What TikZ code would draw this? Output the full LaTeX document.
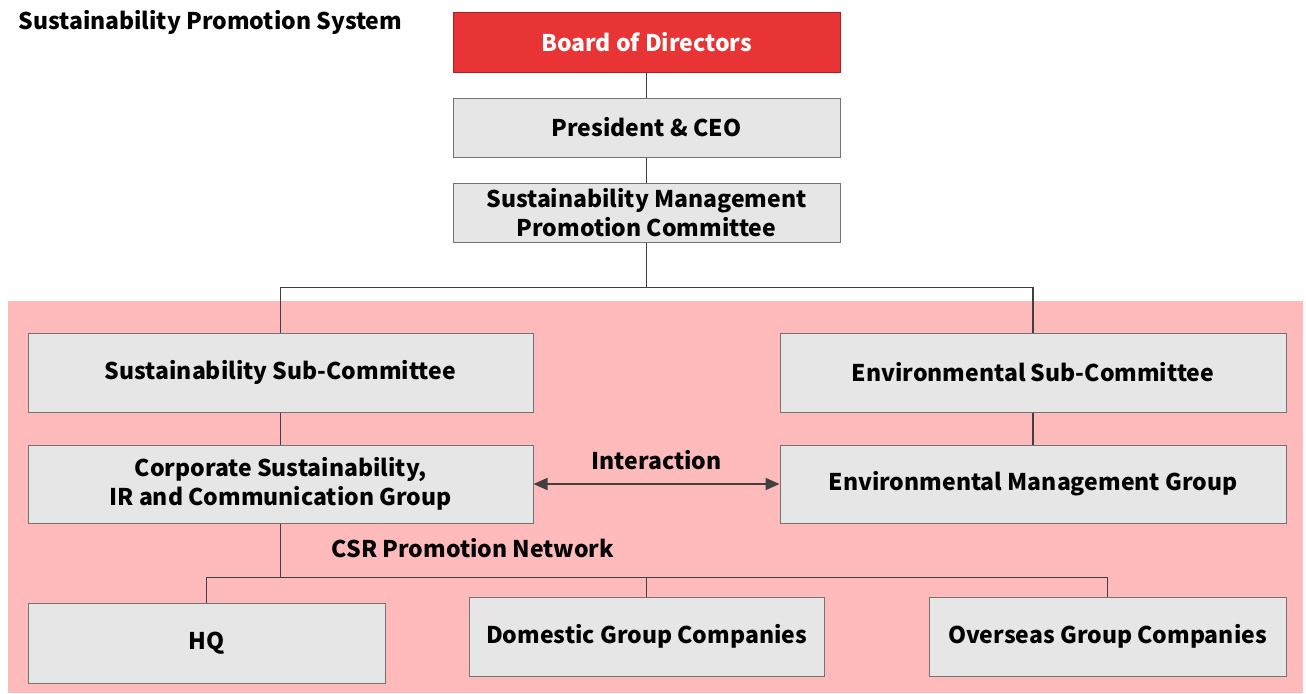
\documentclass[tikz,border=0pt]{standalone}
\usepackage{fontspec}
\setmainfont{Noto Sans CJK JP}
\usetikzlibrary{positioning, arrows.meta}

\definecolor{boardred}{HTML}{E83434}
\definecolor{boxgray}{HTML}{E6E6E6}
\definecolor{netpink}{HTML}{FFBBBB}
\definecolor{linegray}{HTML}{404040}

\begin{document}
\begin{tikzpicture}[x=0.5pt, y=-0.5pt,
  font=\bfseries\fontsize{11.5}{14.5}\selectfont,
  unit/.style={draw=black!55, fill=boxgray, line width=0.5pt, align=center, inner sep=0pt},
  link/.style={draw=linegray, line width=0.9pt}]
\useasboundingbox (0,0) rectangle (1306,693);

% pink area for the sub-committees and the network
\fill[netpink] (8,301) rectangle (1303,693);

\node[anchor=west, inner sep=0pt] (title) at (18,22) {Sustainability Promotion System};

% top of the line
\node[unit, fill=boardred, draw=boardred!70!black, text=white, minimum width=193.5pt, minimum height=30pt] (board) at (646.5,42) {Board of Directors};
\node[unit, minimum width=193.5pt, minimum height=29.5pt] (ceo) at (646.5,127.5) {President \& CEO};
\node[unit, minimum width=193.5pt, minimum height=29.5pt] (smpc) at (646.5,212.5) {Sustainability Management\\Promotion Committee};

% sub-committees
\node[unit, minimum width=252.5pt, minimum height=39.5pt] (ssub) at (280.5,372.5) {Sustainability Sub-Committee};
\node[unit, minimum width=253pt, minimum height=39.5pt] (esub) at (1033,372.5) {Environmental Sub-Committee};
\node[unit, minimum width=252.5pt, minimum height=39pt] (corp) at (280.5,484) {Corporate Sustainability,\\IR and Communication Group};
\node[unit, minimum width=253pt, minimum height=39pt] (emg) at (1033,484) {Environmental Management Group};

% CSR promotion network
\node[unit, minimum width=178.5pt, minimum height=40pt] (hq) at (206.5,643) {HQ};
\node[unit, minimum width=177.5pt, minimum height=39.5pt] (dom) at (646.5,636.5) {Domestic Group Companies};
\node[unit, minimum width=178.5pt, minimum height=39.5pt] (ovs) at (1107.5,636.5) {Overseas Group Companies};
\node (csr) at (473,548) {CSR Promotion Network};

\draw[link] (board) -- (ceo);
\draw[link] (ceo) -- (smpc);
\draw[link] (smpc.south) -- ++(0,45) coordinate (split) -| (ssub.north);
\draw[link] (split) -| (esub.north);
\draw[link] (ssub) -- (corp);
\draw[link] (esub) -- (emg);
\draw[link, {Triangle[length=7pt, width=6pt]}-{Triangle[length=7pt, width=6pt]}] (corp.east) -- node[above=3.5pt] (inter) {Interaction} (emg.west);

\draw[link] (corp.south) -- ++(0,54) coordinate (net) -| (hq.north);
\draw[link] (net) -| (ovs.north);
\draw[link] (dom.north) -- (dom.north |- net);
\end{tikzpicture}
\end{document}
